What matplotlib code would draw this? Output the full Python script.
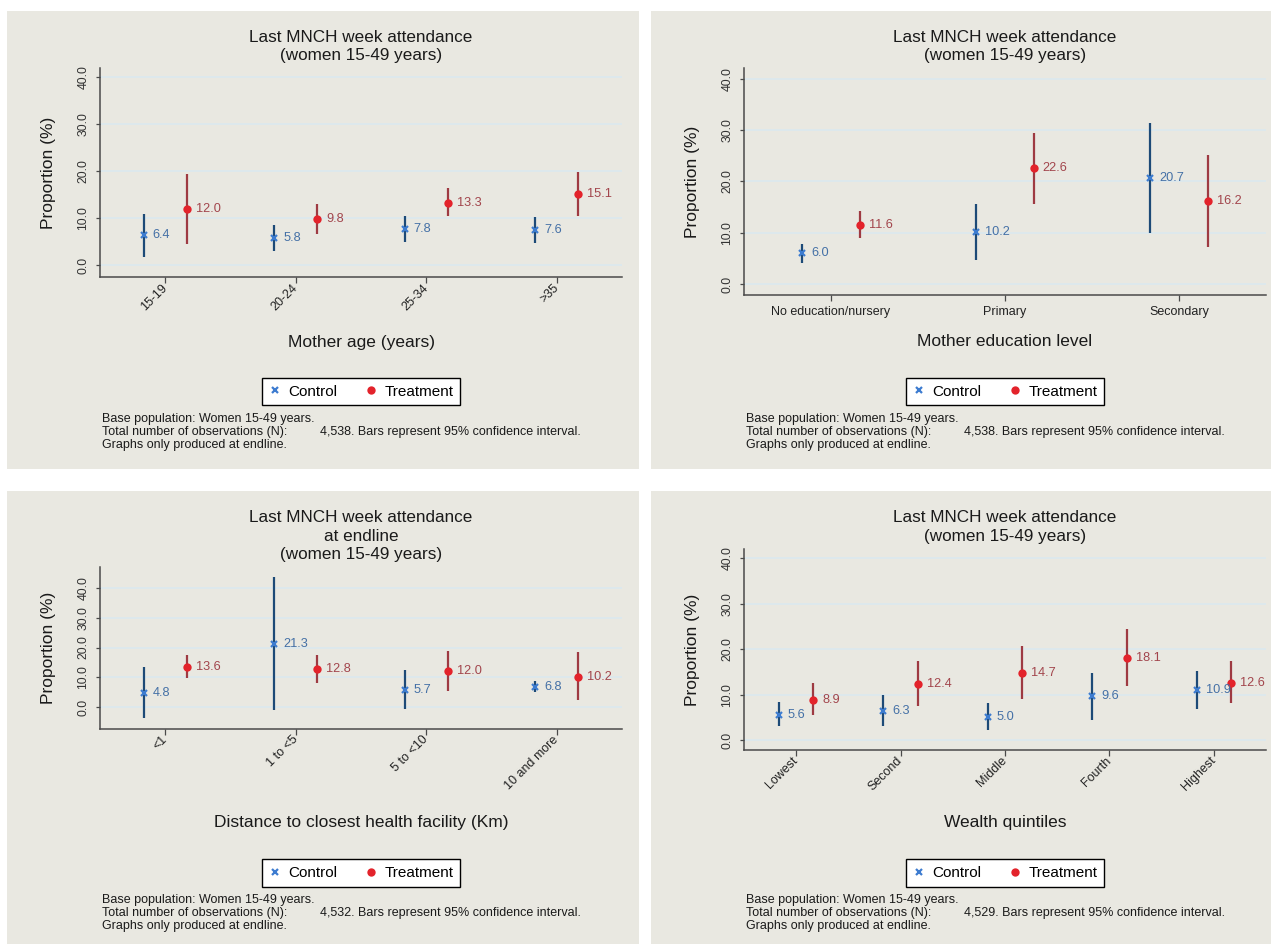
import matplotlib
matplotlib.use("Agg")
import matplotlib.pyplot as plt
from matplotlib.patches import Rectangle
from matplotlib.lines import Line2D

plt.rcParams["font.family"] = ["Liberation Sans", "DejaVu Sans"]

# ---- data: proportions (%) with 95% confidence intervals ----
age_groups = ["15-19", "20-24", "25-34", ">35"]
age_ctrl = [6.4, 5.8, 7.8, 7.6]
age_ctrl_lo = [1.8, 3.0, 5.0, 4.8]
age_ctrl_hi = [10.9, 8.7, 10.6, 10.4]
age_trt = [12.0, 9.8, 13.3, 15.1]
age_trt_lo = [4.6, 6.7, 10.5, 10.6]
age_trt_hi = [19.5, 13.0, 16.4, 19.8]

edu_levels = ["No education/nursery", "Primary", "Secondary"]
edu_ctrl = [6.0, 10.2, 20.7]
edu_ctrl_lo = [4.1, 4.8, 9.9]
edu_ctrl_hi = [7.9, 15.7, 31.4]
edu_trt = [11.6, 22.6, 16.2]
edu_trt_lo = [9.0, 15.7, 7.3]
edu_trt_hi = [14.2, 29.5, 25.2]

dist_groups = ["<1", "1 to <5", "5 to <10", "10 and more"]
dist_ctrl = [4.8, 21.3, 5.7, 6.8]
dist_ctrl_lo = [-3.6, -1.1, -0.8, 5.1]
dist_ctrl_hi = [13.4, 43.9, 12.3, 8.7]
dist_trt = [13.6, 12.8, 12.0, 10.2]
dist_trt_lo = [9.8, 8.2, 5.4, 2.2]
dist_trt_hi = [17.6, 17.6, 18.8, 18.4]

wealth_groups = ["Lowest", "Second", "Middle", "Fourth", "Highest"]
wealth_ctrl = [5.6, 6.3, 5.0, 9.6, 10.9]
wealth_ctrl_lo = [3.1, 3.0, 2.1, 4.4, 6.8]
wealth_ctrl_hi = [8.3, 9.8, 8.1, 14.8, 15.3]
wealth_trt = [8.9, 12.4, 14.7, 18.1, 12.6]
wealth_trt_lo = [5.6, 7.4, 9.1, 11.8, 8.1]
wealth_trt_hi = [12.5, 17.5, 20.6, 24.4, 17.3]

sample_sizes = ["4,538", "4,538", "4,532", "4,529"]
y_ticks = [0, 10, 20, 30, 40]

# ---- styling ----
W, H = 1271, 944
BG = "#e9e8e1"
GRID = "#dce8ee"
CTRL_LINE = "#1d4a77"
CTRL_MARK = "#3d7cd0"
CTRL_TEXT = "#4470a6"
TRT_LINE = "#9e3a42"
TRT_MARK = "#e3232b"
TRT_TEXT = "#a2454c"
AXIS_GREY = "#4a4a4a"
TEXT_DARK = "#1a1a1a"


def fx(x):
    return x / W


def fy(y):
    return 1 - y / H


fig = plt.figure(figsize=(W / 100, H / 100), dpi=100)
fig.patch.set_facecolor("white")

panels = [
    dict(cats=age_groups, c=age_ctrl, clo=age_ctrl_lo, chi=age_ctrl_hi,
         t=age_trt, tlo=age_trt_lo, thi=age_trt_hi, n=sample_sizes[0],
         box=(7, 11, 639, 469), ax=(100, 68, 622, 277), ylim=(-2.45, 42.0),
         title=["Last MNCH week attendance", "(women 15-49 years)"], title_y=37,
         xlabel="Mother age (years)", xlabel_y=342, legend_y=391.5, notes_y=419,
         rot=45),
    dict(cats=edu_levels, c=edu_ctrl, clo=edu_ctrl_lo, chi=edu_ctrl_hi,
         t=edu_trt, tlo=edu_trt_lo, thi=edu_trt_hi, n=sample_sizes[1],
         box=(651, 11, 1271, 469), ax=(744, 68, 1266, 295), ylim=(-2.1, 42.1),
         title=["Last MNCH week attendance", "(women 15-49 years)"], title_y=37,
         xlabel="Mother education level", xlabel_y=342, legend_y=391.5, notes_y=419,
         rot=0),
    dict(cats=dist_groups, c=dist_ctrl, clo=dist_ctrl_lo, chi=dist_ctrl_hi,
         t=dist_trt, tlo=dist_trt_lo, thi=dist_trt_hi, n=sample_sizes[2],
         box=(7, 491, 639, 944), ax=(100, 566.7, 622, 728.7), ylim=(-7.3, 47.2),
         title=["Last MNCH week attendance", "at endline", "(women 15-49 years)"],
         title_y=518, xlabel="Distance to closest health facility (Km)", xlabel_y=823,
         legend_y=873, notes_y=900, rot=45),
    dict(cats=wealth_groups, c=wealth_ctrl, clo=wealth_ctrl_lo, chi=wealth_ctrl_hi,
         t=wealth_trt, tlo=wealth_trt_lo, thi=wealth_trt_hi, n=sample_sizes[3],
         box=(651, 491, 1271, 944), ax=(744, 549, 1266, 750), ylim=(-2.2, 42.05),
         title=["Last MNCH week attendance", "(women 15-49 years)"], title_y=518,
         xlabel="Wealth quintiles", xlabel_y=823, legend_y=873, notes_y=900,
         rot=45),
]

OFF = 0.165
TITLE_STEP = 18.3
NOTE_STEP = 13

for p in panels:
    x0, y0, x1, y1 = p["box"]
    fig.patches.append(Rectangle((fx(x0), fy(y1)), (x1 - x0) / W, (y1 - y0) / H,
                                 transform=fig.transFigure, facecolor=BG,
                                 edgecolor="none", zorder=-10))
    al, at, ar, ab = p["ax"]
    ax = fig.add_axes([fx(al), fy(ab), (ar - al) / W, (ab - at) / H], zorder=2)
    ax.set_facecolor("none")
    ncat = len(p["cats"])
    pos = list(range(1, ncat + 1))
    xc = [x - OFF for x in pos]
    xt = [x + OFF for x in pos]

    for yv in y_ticks:
        ax.axhline(yv, color=GRID, lw=1.3, zorder=1)

    ax.vlines(xc, p["clo"], p["chi"], color=CTRL_LINE, lw=1.6, zorder=2)
    ax.vlines(xt, p["tlo"], p["thi"], color=TRT_LINE, lw=1.6, zorder=2)
    ax.plot(xc, p["c"], ls="none", marker="x", ms=4.8, mew=1.6,
            color=CTRL_MARK, zorder=3)
    ax.plot(xt, p["t"], ls="none", marker="o", ms=6.0, mew=0,
            color=TRT_MARK, zorder=3)
    for x, v in zip(xc, p["c"]):
        ax.annotate(f"{v:.1f}", (x, v), xytext=(6.5, 0), textcoords="offset points",
                    va="center", ha="left", fontsize=9.2, color=CTRL_TEXT, zorder=4)
    for x, v in zip(xt, p["t"]):
        ax.annotate(f"{v:.1f}", (x, v), xytext=(6.5, 0), textcoords="offset points",
                    va="center", ha="left", fontsize=9.2, color=TRT_TEXT, zorder=4)

    ax.set_xlim(0.5, ncat + 0.5)
    ax.set_ylim(*p["ylim"])
    for s in ("top", "right"):
        ax.spines[s].set_visible(False)
    for s in ("left", "bottom"):
        ax.spines[s].set_color(AXIS_GREY)
        ax.spines[s].set_linewidth(1.1)

    ax.set_yticks(y_ticks)
    ax.set_yticklabels([f"{v:.1f}" for v in y_ticks], rotation=90, va="center")
    ax.tick_params(axis="y", length=3, width=0.9, color=AXIS_GREY, pad=4.5,
                   labelsize=8.8, labelcolor="#333333")
    ax.set_xticks(pos)
    if p["rot"]:
        ax.set_xticklabels(p["cats"], rotation=45, ha="right", va="center",
                           rotation_mode="anchor")
        xpad = 2.5
    else:
        ax.set_xticklabels(p["cats"])
        xpad = 4
    ax.tick_params(axis="x", length=4, width=0.9, color=AXIS_GREY, pad=xpad,
                   labelsize=9, labelcolor="#222222")

    cx = (al + ar) / 2
    for i, line in enumerate(p["title"]):
        fig.text(fx(cx), fy(p["title_y"] + i * TITLE_STEP), line, ha="center",
                 va="center", fontsize=12.3, color=TEXT_DARK)
    fig.text(fx(al - 51), fy((at + ab) / 2), "Proportion (%)", rotation=90,
             ha="center", va="center", fontsize=12.5, color=TEXT_DARK)
    fig.text(fx(cx), fy(p["xlabel_y"]), p["xlabel"], ha="center", va="center",
             fontsize=12.5, color=TEXT_DARK)

    handles = [
        Line2D([], [], ls="none", marker="x", ms=4.8, mew=1.6, color=CTRL_MARK),
        Line2D([], [], ls="none", marker="o", ms=6.0, mew=0, color=TRT_MARK),
    ]
    leg = fig.legend(handles, ["Control", "Treatment"], loc="center",
                     bbox_to_anchor=(fx(cx), fy(p["legend_y"])), ncol=2,
                     frameon=True, fancybox=False, fontsize=11,
                     handlelength=0.8, handletextpad=0.5, columnspacing=1.8,
                     borderpad=0.45, borderaxespad=0)
    frame = leg.get_frame()
    frame.set_edgecolor("black")
    frame.set_facecolor("white")
    frame.set_alpha(1)
    frame.set_linewidth(1.0)

    nx = al + 2
    ny = p["notes_y"]
    fig.text(fx(nx), fy(ny), "Base population: Women 15-49 years.", ha="left",
             va="center", fontsize=9, color=TEXT_DARK)
    fig.text(fx(nx), fy(ny + NOTE_STEP), "Total number of observations (N):",
             ha="left", va="center", fontsize=9, color=TEXT_DARK)
    fig.text(fx(nx + 218), fy(ny + NOTE_STEP),
             f"{p['n']}. Bars represent 95% confidence interval.", ha="left",
             va="center", fontsize=9, color=TEXT_DARK)
    fig.text(fx(nx), fy(ny + 2 * NOTE_STEP), "Graphs only produced at endline.",
             ha="left", va="center", fontsize=9, color=TEXT_DARK)

fig.savefig("out.png", dpi=100, facecolor="white")
